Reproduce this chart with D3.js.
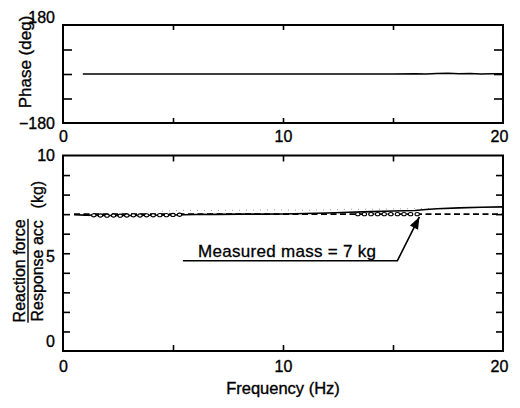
<!DOCTYPE html>
<html><head><meta charset="utf-8">
<script src="https://cdn.jsdelivr.net/npm/d3@7"></script>
<style>
body{margin:0;background:#fff;}
text{font-family:"Liberation Sans",Arial,sans-serif;fill:#000;}
</style></head>
<body><svg id="c" width="520" height="408"></svg>
<script>
// ---- data ----
const phaseFreq = [0.9, 2, 4, 6, 8, 10, 12, 14, 15, 16, 16.5, 17, 17.5, 18, 18.5, 19, 19.5, 20];
const phaseDeg  = [0, 0, 0, 0, 0, 0, 0, 0, 0, 1, 0, 2, 3, 1, 2, 0, 1, 1];

const massFreq = [0.5, 1, 2, 3, 4, 5, 6, 7, 8, 9, 10, 11, 12, 13, 14, 15, 16, 16.5, 17, 18, 19, 20];
const massVal  = [6.97, 6.95, 6.93, 6.93, 6.94, 6.96, 6.98, 6.99, 7.0, 7.0, 7.01, 7.03, 7.06, 7.1, 7.13, 7.16, 7.19, 7.24, 7.28, 7.32, 7.35, 7.37];

const circFreq = [1.4, 1.7, 2.0, 2.3, 2.6, 2.9, 3.2, 3.5, 3.8, 4.1, 4.4, 4.7, 5.0, 5.3,
                  13.4, 13.7, 14.0, 14.3, 14.6, 14.9, 15.2, 15.5, 15.8, 16.1];
const circVal  = [6.94, 6.93, 6.92, 6.93, 6.92, 6.93, 6.94, 6.93, 6.94, 6.94, 6.95, 6.95, 6.96, 6.97,
                  7.0, 7.0, 7.0, 7.0, 7.0, 7.0, 7.0, 7.0, 7.0, 7.0];

const dotFreq = [4.5, 5.5, 6.5, 8, 9.5, 11, 12, 13, 14, 15, 16, 17];
const dotVal  = [7.15, 7.2, 7.18, 7.2, 7.22, 7.2, 7.22, 7.25, 7.25, 7.27, 7.28, 7.3];

const measuredMass = 7;
const xTicks = [0, 10, 20];
const xMinor = [5, 10, 15];
const phaseTicks = [-180, 180];
const phaseMinor = [-90, 0, 90];
const massTicks = [0, 5, 10];
const massMinor = [1, 2, 3, 4, 5, 6, 7, 8, 9];
const annText = "Measured mass = 7 kg";

// ---- layout ----
const svg = d3.select("#c");
const x = d3.scaleLinear().domain([0, 20]).range([63, 503]);
const yP = d3.scaleLinear().domain([-180, 180]).range([123, 25]);
const yM = d3.scaleLinear().domain([0, 10]).range([351, 155.5]);
const FS = 16;

function frame(y) {
  const [y0, y1] = y.range();
  svg.append("rect").attr("x", x(0)).attr("y", y1).attr("width", x(20) - x(0)).attr("height", y0 - y1)
    .attr("fill", "none").attr("stroke", "#000").attr("stroke-width", 2);
}
function innerTicks(y, yMinor, ylen, xlen) {
  const [y0, y1] = y.range();
  svg.append("g").attr("transform", `translate(0,${y0})`)
    .call(d3.axisBottom(x).tickValues(xMinor).tickSize(-xlen).tickFormat(""))
    .call(g => { g.select(".domain").remove(); g.selectAll("line").attr("stroke-width", 1.6); });
  svg.append("g").attr("transform", `translate(0,${y1})`)
    .call(d3.axisTop(x).tickValues(xMinor).tickSize(-xlen).tickFormat(""))
    .call(g => { g.select(".domain").remove(); g.selectAll("line").attr("stroke-width", 1.6); });
  svg.append("g").attr("transform", `translate(${x(0)},0)`)
    .call(d3.axisLeft(y).tickValues(yMinor).tickSize(-ylen).tickFormat(""))
    .call(g => { g.select(".domain").remove(); g.selectAll("line").attr("stroke-width", 1.6); });
  svg.append("g").attr("transform", `translate(${x(20)},0)`)
    .call(d3.axisRight(y).tickValues(yMinor).tickSize(-ylen).tickFormat(""))
    .call(g => { g.select(".domain").remove(); g.selectAll("line").attr("stroke-width", 1.6); });
}
function styleLabels(g) {
  g.select(".domain").remove();
  g.selectAll("text").attr("font-size", FS).attr("font-family", '"Liberation Sans",Arial,sans-serif')
    .attr("fill", "#000").attr("stroke", "#000").attr("stroke-width", 0.35);
}

// ---- top panel: phase ----
frame(yP);
innerTicks(yP, phaseMinor, 9, 5);
svg.append("path").datum(phaseFreq.map((f, i) => [f, phaseDeg[i]]))
  .attr("fill", "none").attr("stroke", "#000").attr("stroke-width", 1.5)
  .attr("d", d3.line().x(d => x(d[0])).y(d => yP(d[1])));

svg.append("g").attr("transform", `translate(0,${yP.range()[0]})`)
  .call(d3.axisBottom(x).tickValues(xTicks).tickSize(0).tickPadding(8).tickFormat(d3.format("d")))
  .call(styleLabels)
  .call(g => g.selectAll(".tick").filter(d => d === 20).select("text").attr("dx", -4));
svg.append("g").attr("transform", `translate(${x(0)},0)`)
  .call(d3.axisLeft(yP).tickValues(phaseTicks).tickSize(0).tickPadding(8).tickFormat(d3.format("d")))
  .call(styleLabels)
  .call(g => g.selectAll(".tick").filter(d => d === 180).select("text").attr("dy", "-0.18em"));

svg.append("text").attr("transform", `translate(31,${yP(0) - 12}) rotate(-90)`)
  .attr("text-anchor", "middle").attr("font-size", FS + 1).attr("stroke", "#000").attr("stroke-width", 0.35)
  .text("Phase (deg)");

// ---- bottom panel: mass ----
frame(yM);
innerTicks(yM, massMinor, 7, 6);

const lineM = d3.line().x(d => x(d[0])).y(d => yM(d[1]));
svg.append("path").datum([[0.5, measuredMass], [20, measuredMass]])
  .attr("fill", "none").attr("stroke", "#000").attr("stroke-width", 1.6).attr("stroke-dasharray", "6,3.5")
  .attr("d", lineM);
svg.append("path").datum(dotFreq.map((f, i) => [f, dotVal[i]]))
  .attr("fill", "none").attr("stroke", "#999").attr("stroke-width", 1).attr("stroke-dasharray", "1,6")
  .attr("d", lineM);
svg.append("path").datum(massFreq.map((f, i) => [f, massVal[i]]))
  .attr("fill", "none").attr("stroke", "#000").attr("stroke-width", 1.6)
  .attr("d", lineM);
svg.append("g").selectAll("ellipse").data(circFreq.map((f, i) => [f, circVal[i]])).join("ellipse")
  .attr("cx", d => x(d[0])).attr("cy", d => yM(d[1])).attr("rx", 2.2).attr("ry", 1.6)
  .attr("fill", "#fff").attr("stroke", "#000").attr("stroke-width", 1.1);

svg.append("g").attr("transform", `translate(0,${yM.range()[0]})`)
  .call(d3.axisBottom(x).tickValues(xTicks).tickSize(0).tickPadding(10).tickFormat(d3.format("d")))
  .call(styleLabels)
  .call(g => g.selectAll(".tick").filter(d => d === 20).select("text").attr("dx", -4));
svg.append("g").attr("transform", `translate(${x(0)},0)`)
  .call(d3.axisLeft(yM).tickValues(massTicks).tickSize(0).tickPadding(8).tickFormat(d3.format("d")))
  .call(styleLabels)
  .call(g => {
    g.selectAll(".tick").filter(d => d === 0).select("text").attr("dy", "-0.3em");
    g.selectAll(".tick").filter(d => d === 5).select("text").attr("dy", "0.5em");
  });

// y label (fraction)
const yc = yM(4.1);
svg.append("text").attr("transform", `translate(25,${yc}) rotate(-90)`)
  .attr("text-anchor", "middle").attr("font-size", FS).attr("stroke", "#000").attr("stroke-width", 0.35)
  .text("Reaction force");
svg.append("line").attr("x1", 28).attr("x2", 28).attr("y1", yc - 52).attr("y2", yc + 52)
  .attr("stroke", "#000").attr("stroke-width", 1.4);
svg.append("text").attr("transform", `translate(43,${yc}) rotate(-90)`)
  .attr("text-anchor", "middle").attr("font-size", FS).attr("stroke", "#000").attr("stroke-width", 0.35)
  .text("Response acc");
svg.append("text").attr("transform", `translate(43,${yM(8.0)}) rotate(-90)`)
  .attr("text-anchor", "middle").attr("font-size", FS).attr("stroke", "#000").attr("stroke-width", 0.35)
  .text("(kg)");

svg.append("text").attr("x", x(10)).attr("y", 394).attr("text-anchor", "middle")
  .attr("font-size", FS + 0.5).attr("stroke", "#000").attr("stroke-width", 0.35)
  .text("Frequency (Hz)");

// annotation
svg.append("text").attr("x", x(6.14)).attr("y", yM(4.82)).attr("font-size", 17)
  .attr("stroke", "#000").attr("stroke-width", 0.3).attr("textLength", 178).text(annText);
svg.append("path").datum([[5.45, 4.62], [15.2, 4.62], [16.2, 6.86]])
  .attr("fill", "none").attr("stroke", "#000").attr("stroke-width", 1.6).attr("d", lineM);
// arrowhead
{
  const tip = [x(16.2), yM(6.86)], base = [x(15.2), yM(4.62)];
  const ang = Math.atan2(tip[1] - base[1], tip[0] - base[0]);
  const L = 12, W = 4.5;
  const bx = tip[0] - L * Math.cos(ang), by = tip[1] - L * Math.sin(ang);
  const px = -Math.sin(ang) * W, py = Math.cos(ang) * W;
  svg.append("path").attr("d", `M${tip[0]},${tip[1]}L${bx + px},${by + py}L${bx - px},${by - py}Z`).attr("fill", "#000");
}
</script></body></html>
